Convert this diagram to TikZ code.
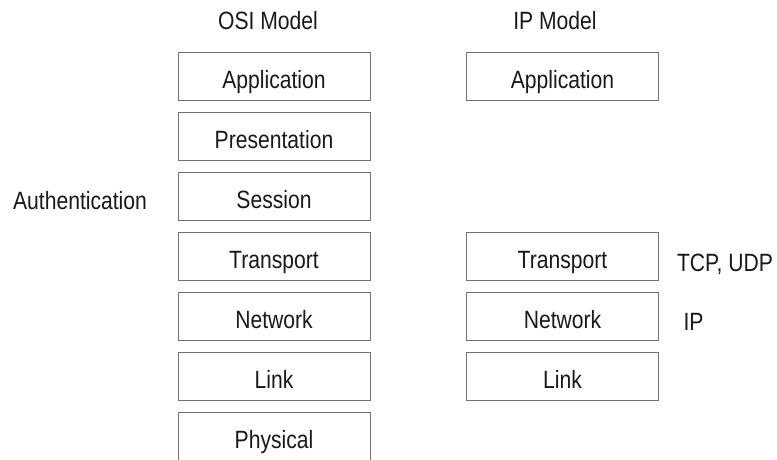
\documentclass[tikz,border=0pt]{standalone}
\usepackage{fontspec}
\setmainfont{Liberation Sans}[FakeStretch=0.845]
\begin{document}
\begin{tikzpicture}[x=1pt,y=-1pt,
  layer/.style={draw=black!55,line width=1pt,minimum width=192pt,minimum height=48pt,inner sep=0pt},
  lbl/.style={font=\fontsize{25pt}{28pt}\selectfont,text=black!90,anchor=base,inner sep=0pt}]
\useasboundingbox (0,0) rectangle (777,459);
\clip (0,0) rectangle (777,459);
% OSI column
\foreach \n/\t/\y in {oapp/Application/76,opres/Presentation/136,osess/Session/196,otrans/Transport/256,onet/Network/316,olink/Link/376,ophys/Physical/436}{
  \node[layer] (\n) at (274,\y) {};
  \node[lbl] (\n-t) at (274,\y+12) {\t};
}
% IP column
\foreach \n/\t/\y in {iapp/Application/76,itrans/Transport/256,inet/Network/316,ilink/Link/376}{
  \node[layer] (\n) at (562.5,\y) {};
  \node[lbl] (\n-t) at (562.5,\y+12) {\t};
}
\node[lbl] (osi) at (268,29) {OSI Model};
\node[lbl] (ipm) at (555,29) {IP Model};
\node[lbl] (auth) at (80,209) {Authentication};
\node[lbl] (tcp) at (725,271) {TCP, UDP};
\node[lbl] (ip) at (693.5,330) {IP};
\end{tikzpicture}
\end{document}
